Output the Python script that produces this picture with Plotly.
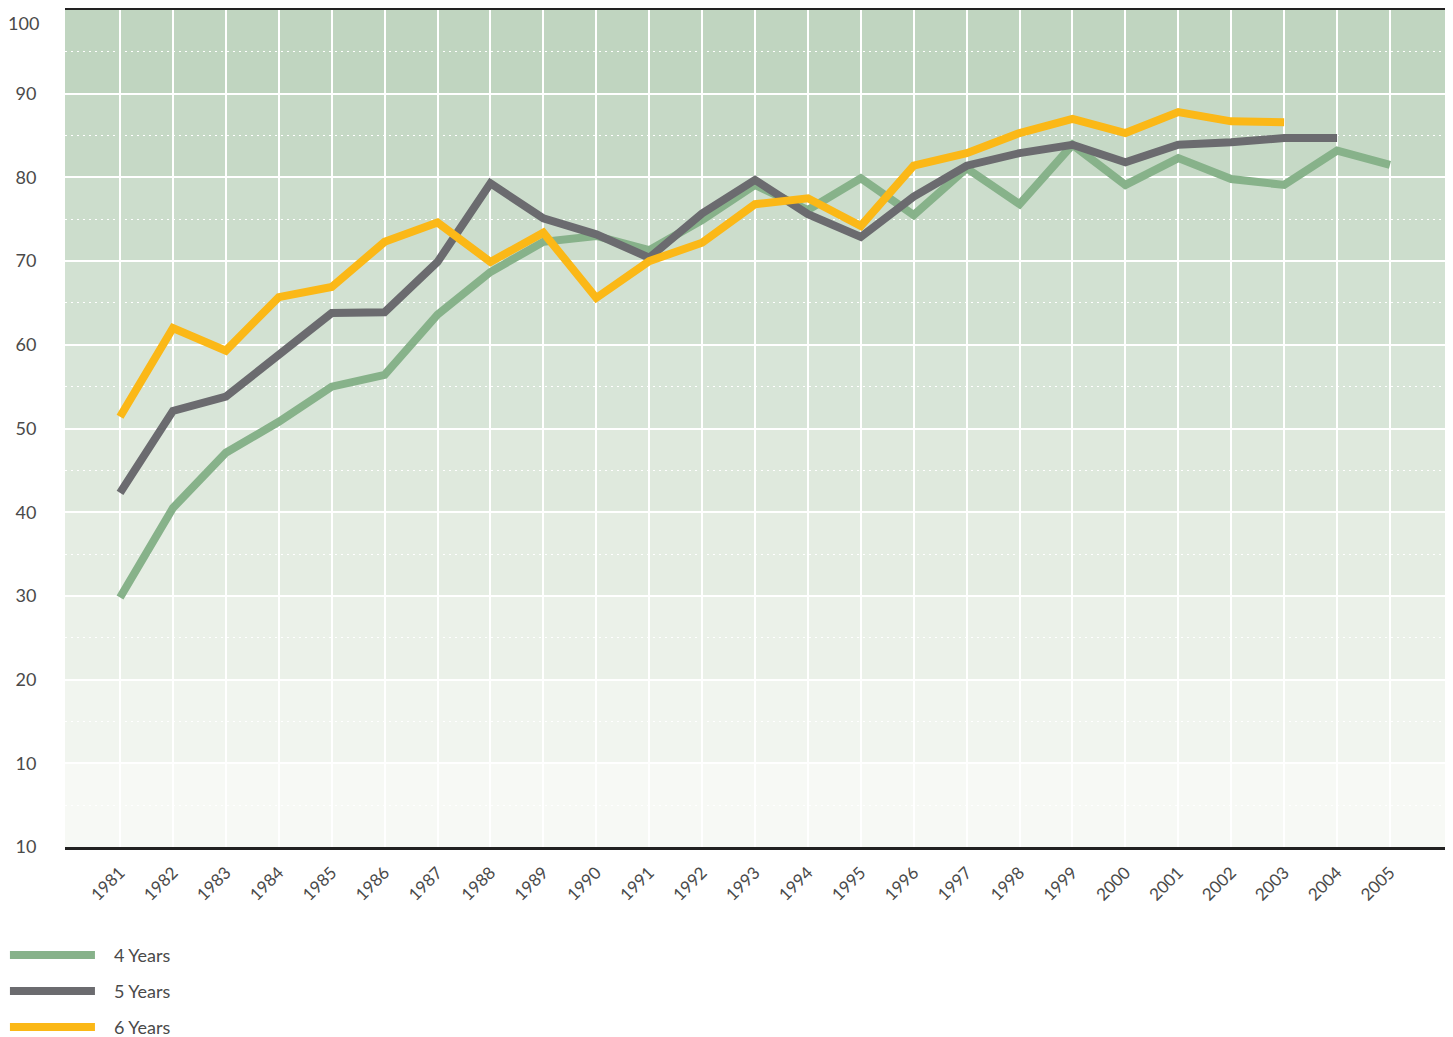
import plotly.graph_objects as go

years = list(range(1981, 2006))

four_years = [29.8, 40.5, 47.1, 50.8, 55.0, 56.4, 63.6, 68.7, 72.3, 73.0, 71.3, 74.9, 79.1,
              76.1, 79.9, 75.5, 81.1, 76.8, 83.9, 79.1, 82.3, 79.8, 79.1, 83.2, 81.5]
five_years = [42.3, 52.1, 53.8, 58.8, 63.8, 63.9, 69.9, 79.3, 75.1, 73.2, 70.4, 75.7, 79.7,
              75.6, 72.9, 77.7, 81.4, 82.9, 83.9, 81.8, 83.9, 84.2, 84.7, 84.7]
six_years = [51.4, 62.0, 59.3, 65.7, 66.9, 72.3, 74.6, 69.9, 73.4, 65.6, 70.0, 72.2, 76.8,
             77.5, 74.2, 81.4, 82.9, 85.3, 87.0, 85.3, 87.8, 86.7, 86.6]

series_names = ["4 Years", "5 Years", "6 Years"]
series_values = [four_years, five_years, six_years]
series_colors = ["#87b28a", "#6b6b6f", "#fbb817"]

y_tick_vals = [0, 10, 20, 30, 40, 50, 60, 70, 80, 90]
y_tick_text = ["10", "10", "20", "30", "40", "50", "60", "70", "80", "90"]
y_top_label = "100"
x_tick_text = [str(y) for y in years]

FONT = "Lato, 'Open Sans', sans-serif"
TEXT_COLOR = "#4a4a4a"

fig = go.Figure()
for name, vals, col in zip(series_names, series_values, series_colors):
    fig.add_trace(go.Scatter(
        x=years[:len(vals)], y=vals, mode="lines", name=name,
        line=dict(color=col, width=8), showlegend=False,
    ))

# background bands (darker towards the top)
top = (192, 213, 192)
bot = (247, 249, 245)
shapes = []
for i in range(10):
    t = i / 9.0
    c = tuple(round(bot[k] + (top[k] - bot[k]) * t) for k in range(3))
    shapes.append(dict(type="rect", xref="paper", yref="paper", x0=0, x1=1,
                       y0=i / 10.0, y1=(i + 1) / 10.0, fillcolor="rgb(%d,%d,%d)" % c,
                       line=dict(width=0), layer="below"))

# legend samples
legend_y = [-0.129, -0.172, -0.215]
annotations = []
for name, col, ly in zip(series_names, series_colors, legend_y):
    shapes.append(dict(type="line", xref="paper", yref="paper", x0=-0.0399, x1=0.0217,
                       y0=ly, y1=ly, line=dict(color=col, width=8)))
    annotations.append(dict(xref="paper", yref="paper", x=0.034, y=ly, text=name,
                            showarrow=False, xanchor="left", yanchor="middle",
                            font=dict(family=FONT, size=18, color=TEXT_COLOR)))

# top y label sits just below the top border
annotations.append(dict(xref="paper", yref="y", x=-0.0175, y=100, text=y_top_label,
                        showarrow=False, xanchor="right", yanchor="top", yshift=0,
                        font=dict(family=FONT, size=18, color=TEXT_COLOR)))

# page body has an 8px margin, so the figure is shifted accordingly
fig.update_layout(
    width=1445, height=1029,
    margin=dict(l=57, r=8, t=2, b=190, autoexpand=False),
    paper_bgcolor="white", plot_bgcolor="rgba(0,0,0,0)",
    shapes=shapes, annotations=annotations,
    font=dict(family=FONT, color=TEXT_COLOR),
)
fig.update_xaxes(
    range=[1979.96, 2006.04], tickvals=years, ticktext=x_tick_text, tickangle=-45,
    showgrid=True, gridcolor="white", gridwidth=2, zeroline=False,
    showline=True, mirror=True, linecolor="#222222", linewidth=3,
    ticks="outside", ticklen=0, ticklabelstandoff=6, automargin=False,
    tickfont=dict(family=FONT, size=17, color=TEXT_COLOR),
)
fig.update_yaxes(
    range=[0, 100], tickvals=y_tick_vals, ticktext=y_tick_text,
    showgrid=True, gridcolor="white", gridwidth=2, zeroline=False, showline=False,
    ticks="outside", ticklen=0, ticklabelstandoff=24, automargin=False,
    tickfont=dict(family=FONT, size=18, color=TEXT_COLOR),
    minor=dict(dtick=5, tick0=0, showgrid=True, gridcolor="white", gridwidth=1,
               griddash="2px,4px"),
)

fig.write_html("out.html")
